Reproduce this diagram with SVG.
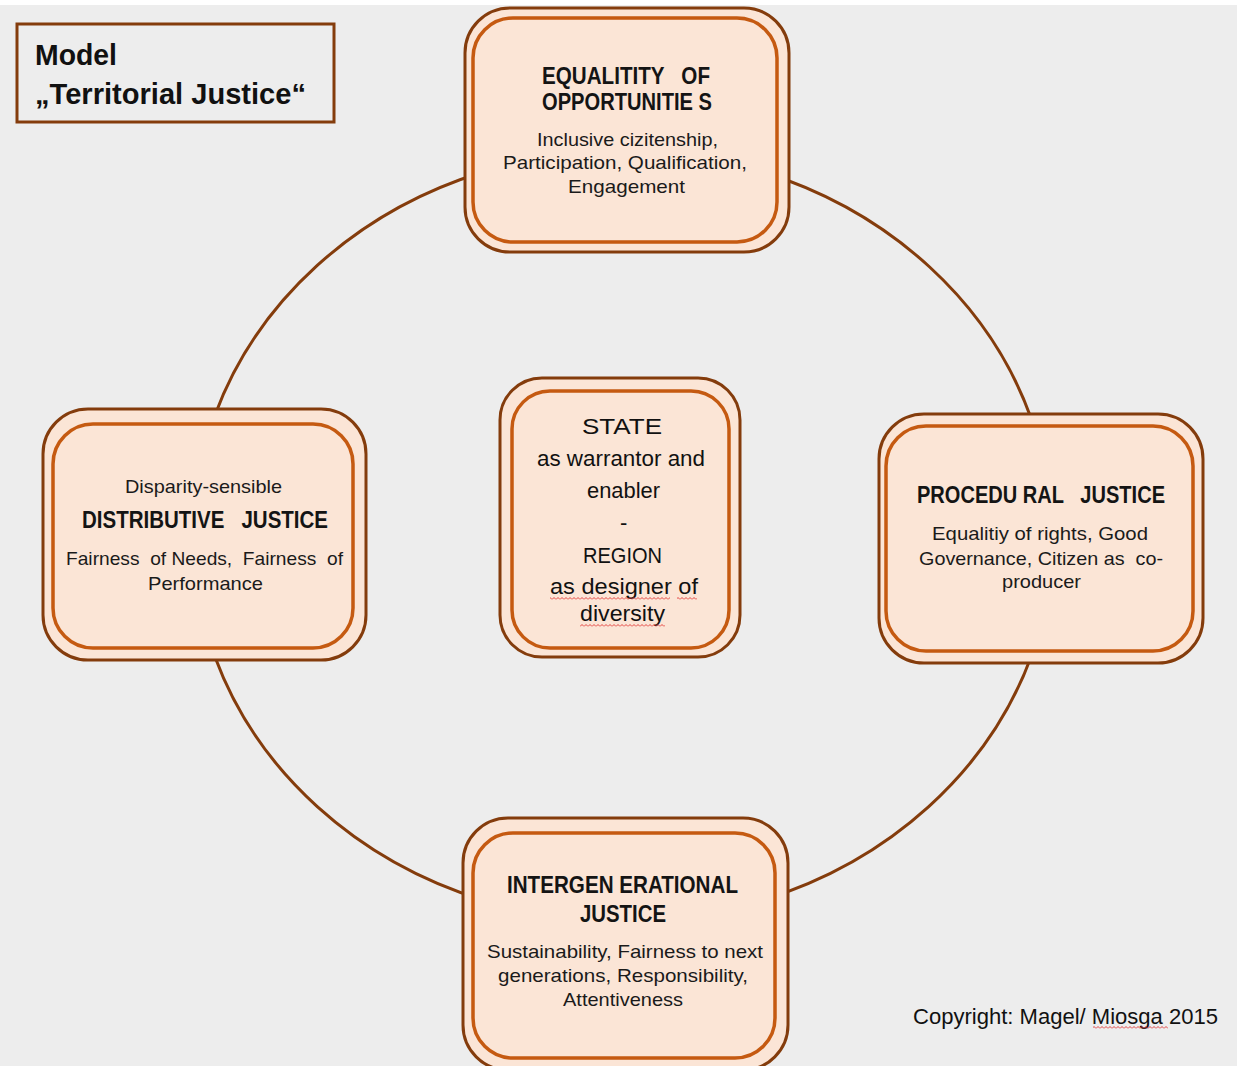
<svg xmlns="http://www.w3.org/2000/svg" width="1237" height="1066" viewBox="0 0 1237 1066">
<defs>
<style>
.bg{fill:#ededed}
.outer{fill:#fbe5d6;stroke:#843c0c;stroke-width:3}
.inner{fill:#fbe5d6;stroke:#c55a11;stroke-width:3.5}
.arc{fill:none;stroke:#843c0c;stroke-width:3}
text{white-space:pre}
.h{font-family:"Liberation Sans",Arial,sans-serif;font-weight:bold;font-size:23px;fill:#141414}
.b{font-family:"Liberation Sans",Arial,sans-serif;font-size:19px;fill:#1a1a1a}
.m{font-family:"Liberation Sans",Arial,sans-serif;font-size:22px;fill:#111}
.t{font-family:"Liberation Sans",Arial,sans-serif;font-weight:bold;font-size:29px;fill:#111}
</style>
<pattern id="wave" width="4" height="3" patternUnits="userSpaceOnUse">
<path d="M0 2.5 L2 0.5 L4 2.5" fill="none" stroke="#e03030" stroke-width="0.9"/>
</pattern>
</defs>
<rect class="bg" x="0" y="0" width="1237" height="1066"/>
<rect x="0" y="0" width="1237" height="5" fill="#ffffff"/>

<g id="title">
<rect x="17" y="24" width="317" height="98" fill="none" stroke="#843c0c" stroke-width="3"/>
<text class="t" x="35" y="65" textLength="82" lengthAdjust="spacingAndGlyphs">Model</text>
<text class="t" x="35" y="104" textLength="271" lengthAdjust="spacingAndGlyphs">„Territorial Justice“</text>
</g>

<g id="connectors">
<path class="arc" d="M483 172 A430 385 0 0 0 215 415"/>
<path class="arc" d="M763 172 A430 385 0 0 1 1031 418"/>
<path class="arc" d="M1031 657 A430 385 0 0 1 763 900"/>
<path class="arc" d="M483 900 A430 385 0 0 1 215 657"/>
</g>

<g id="node-equality">
<rect class="outer" x="465" y="8" width="324" height="244" rx="45"/>
<rect class="inner" x="473" y="18" width="304" height="224" rx="40"/>
<text class="h" x="542" y="84" textLength="168" lengthAdjust="spacingAndGlyphs">EQUALITITY   OF</text>
<text class="h" x="542" y="110" textLength="170" lengthAdjust="spacingAndGlyphs">OPPORTUNITIE S</text>
<text class="b" x="537" y="146" textLength="181" lengthAdjust="spacingAndGlyphs">Inclusive cizitenship,</text>
<text class="b" x="503" y="169" textLength="244" lengthAdjust="spacingAndGlyphs">Participation, Qualification,</text>
<text class="b" x="568" y="193" textLength="117" lengthAdjust="spacingAndGlyphs">Engagement</text>
</g>

<g id="node-state">
<rect class="outer" x="500" y="378" width="240" height="279" rx="42"/>
<rect class="inner" x="512" y="391" width="217" height="257" rx="38"/>
<text class="m" x="582" y="434" font-size="29" textLength="80" lengthAdjust="spacingAndGlyphs">STATE</text>
<text class="m" x="537" y="466" textLength="168" lengthAdjust="spacingAndGlyphs">as warrantor and</text>
<text class="m" x="587" y="498" textLength="73" lengthAdjust="spacingAndGlyphs">enabler</text>
<text class="m" x="620" y="530">-</text>
<text class="m" x="583" y="563" textLength="79" lengthAdjust="spacingAndGlyphs">REGION</text>
<text class="m" x="550" y="594" textLength="148" lengthAdjust="spacingAndGlyphs">as designer of</text>
<text class="m" x="580" y="621" textLength="85" lengthAdjust="spacingAndGlyphs">diversity</text>
<rect x="550" y="597" width="120" height="3" fill="url(#wave)"/>
<rect x="677" y="597" width="20" height="3" fill="url(#wave)"/>
<rect x="580" y="624" width="85" height="3" fill="url(#wave)"/>
</g>

<g id="node-distributive">
<rect class="outer" x="43" y="409" width="323" height="251" rx="45"/>
<rect class="inner" x="53" y="424" width="300" height="224" rx="40"/>
<text class="b" x="125" y="493" textLength="157" lengthAdjust="spacingAndGlyphs">Disparity-sensible</text>
<text class="h" x="82" y="528" textLength="246" lengthAdjust="spacingAndGlyphs">DISTRIBUTIVE   JUSTICE</text>
<text class="b" x="66" y="565" textLength="277" lengthAdjust="spacingAndGlyphs">Fairness  of Needs,  Fairness  of</text>
<text class="b" x="148" y="590" textLength="115" lengthAdjust="spacingAndGlyphs">Performance</text>
</g>

<g id="node-procedural">
<rect class="outer" x="879" y="414" width="324" height="249" rx="45"/>
<rect class="inner" x="886" y="426" width="307" height="225" rx="40"/>
<text class="h" x="917" y="503" textLength="248" lengthAdjust="spacingAndGlyphs">PROCEDU RAL   JUSTICE</text>
<text class="b" x="932" y="540" textLength="216" lengthAdjust="spacingAndGlyphs">Equalitiy of rights, Good</text>
<text class="b" x="919" y="565" textLength="244" lengthAdjust="spacingAndGlyphs">Governance, Citizen as  co-</text>
<text class="b" x="1002" y="588" textLength="79" lengthAdjust="spacingAndGlyphs">producer</text>
</g>

<g id="node-intergenerational">
<rect class="outer" x="463" y="818" width="325" height="252" rx="45"/>
<rect class="inner" x="473" y="833" width="302" height="225" rx="40"/>
<text class="h" x="507" y="893" textLength="231" lengthAdjust="spacingAndGlyphs">INTERGEN ERATIONAL</text>
<text class="h" x="580" y="922" textLength="86" lengthAdjust="spacingAndGlyphs">JUSTICE</text>
<text class="b" x="487" y="958" textLength="276" lengthAdjust="spacingAndGlyphs">Sustainability, Fairness to next</text>
<text class="b" x="498" y="982" textLength="250" lengthAdjust="spacingAndGlyphs">generations, Responsibility,</text>
<text class="b" x="563" y="1006" textLength="120" lengthAdjust="spacingAndGlyphs">Attentiveness</text>
</g>

<g id="copyright">
<text class="m" x="913" y="1024" font-size="23" textLength="305" lengthAdjust="spacingAndGlyphs">Copyright: Magel/ Miosga 2015</text>
<rect x="1093" y="1026" width="75" height="3" fill="url(#wave)"/>
</g>
</svg>
